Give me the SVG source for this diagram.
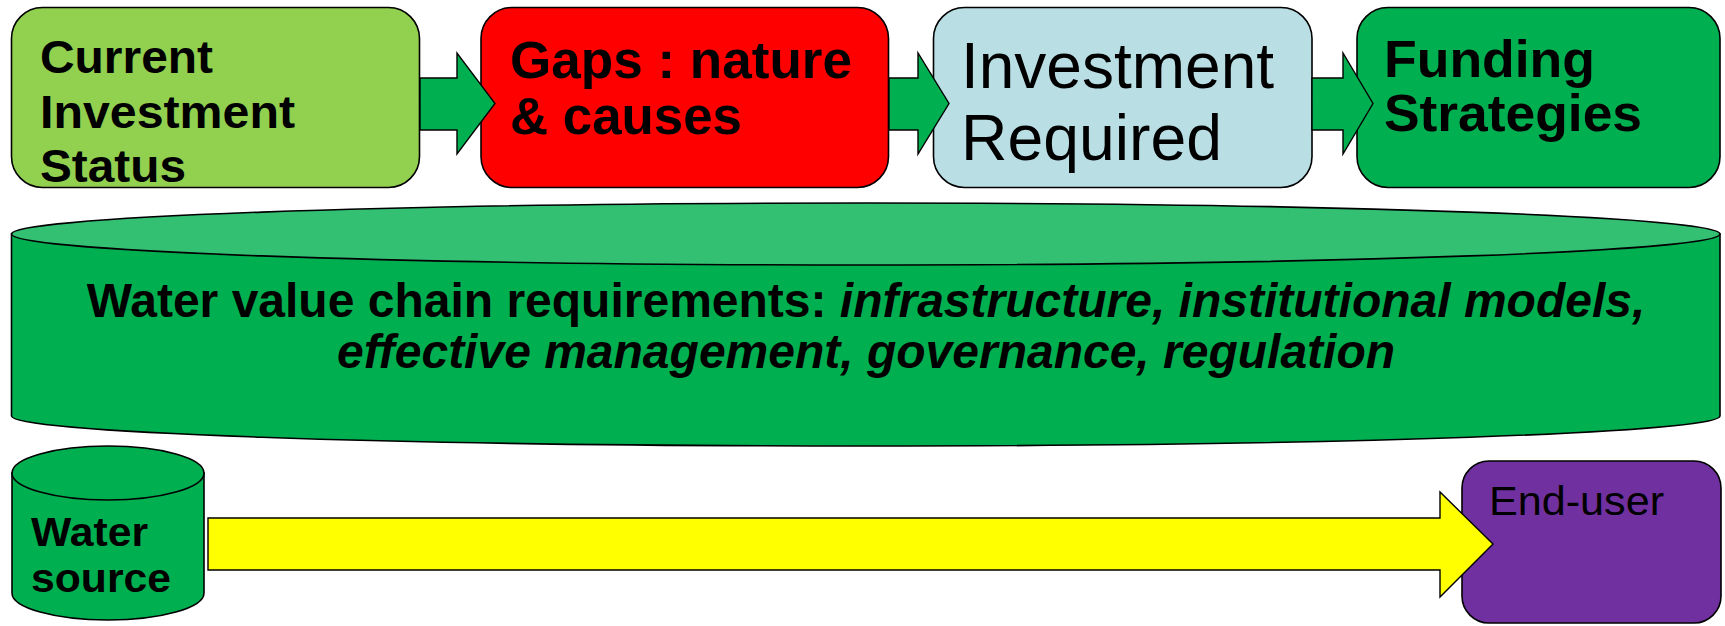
<svg xmlns="http://www.w3.org/2000/svg" width="1725" height="626" viewBox="0 0 1725 626">
<style>
.box{stroke:#000;stroke-width:1.6}
.arr{fill:#00B050;stroke:#000;stroke-width:1.4;stroke-linejoin:miter}
.t{font-family:"Liberation Sans",Arial,sans-serif;fill:#000}
.b{font-weight:bold}
.i{font-style:italic}
</style>
<rect width="1725" height="626" fill="#fff"/>
<g id="node-current">
<rect class="box" x="11.5" y="7.5" width="408" height="180" rx="31" fill="#92D050"/>
<text class="t b" font-size="47" x="40" y="73" textLength="173" lengthAdjust="spacingAndGlyphs">Current</text>
<text class="t b" font-size="47" x="40" y="128" textLength="255" lengthAdjust="spacingAndGlyphs">Investment</text>
<text class="t b" font-size="47" x="40" y="182" textLength="146" lengthAdjust="spacingAndGlyphs">Status</text>
</g>
<g id="node-gaps">
<rect class="box" x="481" y="7.5" width="407.5" height="180" rx="31" fill="#FF0000"/>
<text class="t b" font-size="51" x="510" y="78" textLength="342" lengthAdjust="spacingAndGlyphs">Gaps : nature</text>
<text class="t b" font-size="51" x="510" y="134" textLength="232" lengthAdjust="spacingAndGlyphs">&amp; causes</text>
</g>
<g id="node-investment">
<rect class="box" x="933.5" y="7.5" width="378.5" height="180" rx="31" fill="#B9DFE5"/>
<text class="t" font-size="64" x="961" y="88" textLength="313" lengthAdjust="spacingAndGlyphs">Investment</text>
<text class="t" font-size="64" x="961" y="160" textLength="261" lengthAdjust="spacingAndGlyphs">Required</text>
</g>
<g id="node-funding">
<rect class="box" x="1357" y="7.5" width="363" height="180" rx="31" fill="#00B050"/>
<text class="t b" font-size="52" x="1384" y="77" textLength="211" lengthAdjust="spacingAndGlyphs">Funding</text>
<text class="t b" font-size="52" x="1384" y="131" textLength="258" lengthAdjust="spacingAndGlyphs">Strategies</text>
</g>
<g id="node-requirements">
<path class="box" d="M11.5,234 L11.5,416 A854.25,30 0 0,0 1720,416 L1720,234 Z" fill="#00B050"/>
<ellipse class="box" cx="865.75" cy="234" rx="854.25" ry="31" fill="#33C073"/>
<text class="t b" font-size="48" x="866" y="317" text-anchor="middle">Water value chain requirements: <tspan class="i">infrastructure, institutional models,</tspan></text>
<text class="t b i" font-size="48" x="866" y="368" text-anchor="middle">effective management, governance, regulation</text>
</g>
<g id="node-water-source">
<path class="box" d="M12,473 L12,593 A96,27 0 0,0 204,593 L204,473 Z" fill="#00B050"/>
<ellipse class="box" cx="108" cy="473" rx="96" ry="27" fill="#00B050"/>
<text class="t b" font-size="40" x="31" y="546" textLength="117" lengthAdjust="spacingAndGlyphs">Water</text>
<text class="t b" font-size="40" x="31" y="592" textLength="140" lengthAdjust="spacingAndGlyphs">source</text>
</g>
<g id="node-end-user">
<rect class="box" x="1462" y="461" width="259" height="162" rx="27" fill="#7030A0"/>
<text class="t" font-size="40" x="1489" y="515" textLength="175" lengthAdjust="spacingAndGlyphs">End-user</text>
</g>
<g id="connectors">
<path class="arr" d="M420,78 L457,78 L457,53 L495,103.5 L457,154 L457,130 L420,130 Z"/>
<path class="arr" d="M889,78 L918,78 L918,53 L949,103.5 L918,154 L918,130 L889,130 Z"/>
<path class="arr" d="M1312,78 L1343,78 L1343,53 L1373,103.5 L1343,154 L1343,130 L1312,130 Z"/>
<path class="arr" style="fill:#FFFF00" d="M208,518 L1440,518 L1440,492 L1493,544 L1440,597 L1440,570 L208,570 Z"/>
</g>
</svg>
